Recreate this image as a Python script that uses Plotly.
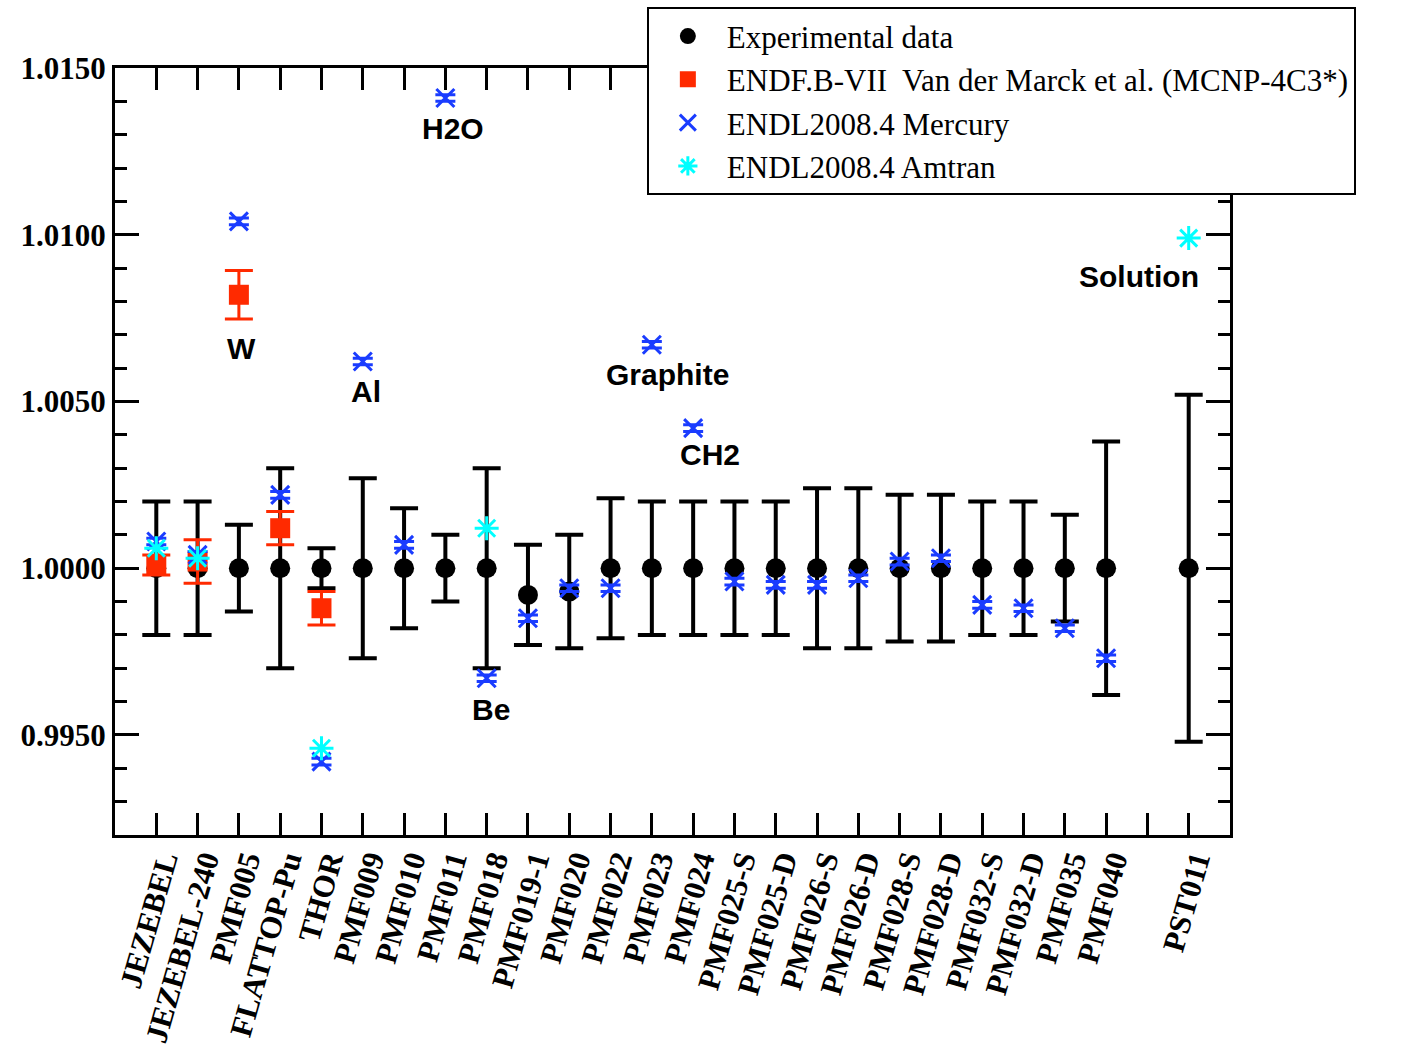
import plotly.graph_objects as go

# ---------------- data ----------------
labels = ["JEZEBEL", "JEZEBEL-240", "PMF005", "FLATTOP-Pu", "THOR", "PMF009", "PMF010",
          "PMF011", "PMF018", "PMF019-1", "PMF020", "PMF022", "PMF023", "PMF024",
          "PMF025-S", "PMF025-D", "PMF026-S", "PMF026-D", "PMF028-S", "PMF028-D",
          "PMF032-S", "PMF032-D", "PMF035", "PMF040", "", "PST011"]
label_pos = list(range(1, 27))

exp_x = [1, 2, 3, 4, 5, 6, 7, 8, 9, 10, 11, 12, 13, 14, 15, 16, 17, 18, 19, 20, 21, 22, 23, 24, 26]
exp_y = [1.0, 1.0, 1.0, 1.0, 1.0, 1.0, 1.0, 1.0, 1.0, 0.9992, 0.9993, 1.0, 1.0, 1.0,
         1.0, 1.0, 1.0, 1.0, 1.0, 1.0, 1.0, 1.0, 1.0, 1.0, 1.0]
exp_err = [0.0020, 0.0020, 0.0013, 0.0030, 0.0006, 0.0027, 0.0018, 0.0010, 0.0030, 0.0015,
           0.0017, 0.0021, 0.0020, 0.0020, 0.0020, 0.0020, 0.0024, 0.0024, 0.0022, 0.0022,
           0.0020, 0.0020, 0.0016, 0.0038, 0.0052]

endf_x = [1, 2, 3, 4, 5]
endf_y = [1.0001, 1.0002, 1.0082, 1.0012, 0.9988]
endf_err = [0.0003, 0.00065, 0.00073, 0.0005, 0.0005]

merc_x = list(range(1, 25))
merc_y = [1.0008, 1.0004, 1.0104, 1.0022, 0.9942, 1.0062, 1.0007, 1.0141, 0.9967, 0.9985,
          0.9994, 0.9994, 1.0067, 1.0042, 0.9996, 0.9995, 0.9995, 0.9997, 1.0002, 1.0003,
          0.9989, 0.9988, 0.9982, 0.9973]
merc_err = [0.0001] * len(merc_x)

amt_x = [1, 2, 5, 9, 26]
amt_y = [1.0006, 1.0003, 0.9946, 1.0012, 1.0099]

notes = ["H2O", "W", "Al", "Be", "Graphite", "CH2", "Solution"]
note_x = [8.18, 3.07, 6.08, 9.1, 13.37, 14.4, 24.8]
note_y = [1.0132, 1.0066, 1.0053, 0.99575, 1.0058, 1.0034, 1.00875]

BLUE = "#1a3cff"
RED = "#ff2a00"
CYAN = "#00ffff"

fig = go.Figure()
fig.add_trace(go.Scatter(
    x=exp_x, y=exp_y, mode="markers", name="Experimental data",
    marker=dict(symbol="circle", size=20, color="black"),
    error_y=dict(type="data", array=exp_err, color="black", thickness=4, width=14)))
fig.add_trace(go.Scatter(
    x=endf_x, y=endf_y, mode="markers",
    name="ENDF.B-VII  Van der Marck et al. (MCNP-4C3*)",
    marker=dict(symbol="square", size=20, color=RED),
    error_y=dict(type="data", array=endf_err, color=RED, thickness=3, width=14)))
fig.add_trace(go.Scatter(
    x=merc_x, y=merc_y, mode="markers", name="ENDL2008.4 Mercury",
    marker=dict(symbol="x-thin-open", size=18, color=BLUE, line=dict(color=BLUE, width=3)),
    error_y=dict(type="data", array=merc_err, color=BLUE, thickness=3, width=10)))
fig.add_trace(go.Scatter(
    x=amt_x, y=amt_y, mode="markers", name="ENDL2008.4 Amtran",
    marker=dict(symbol="asterisk-open", size=20, color=CYAN, line=dict(color=CYAN, width=3))))

for t, xx, yy in zip(notes, note_x, note_y):
    fig.add_annotation(x=xx, y=yy, text=t, showarrow=False, xref="x", yref="y",
                       font=dict(family="Liberation Sans", size=30, color="black", weight="bold"))

fig.update_layout(
    width=1404, height=1056,
    margin=dict(l=115, r=174, t=68, b=221, autoexpand=False),
    paper_bgcolor="white", plot_bgcolor="white",
    showlegend=True,
    legend=dict(x=0.477, y=1.079, xanchor="left", yanchor="top",
                bgcolor="white", bordercolor="black", borderwidth=2,
                font=dict(family="Liberation Serif", size=31, color="black"),
                itemwidth=68, tracegroupgap=0),
    xaxis=dict(range=[0, 27], tickmode="array", tickvals=label_pos, ticktext=labels,
               tickangle=-74, ticks="inside", ticklen=22, tickwidth=3, tickcolor="black",
               showline=True, linecolor="black", linewidth=3, mirror="ticks",
               showgrid=False, zeroline=False, automargin=False, ticklabelshift=7,
               ticklabelstandoff=-8,
               tickfont=dict(family="Liberation Serif", size=31, color="black", weight="bold")),
    yaxis=dict(range=[0.992, 1.015], tickmode="array",
               tickvals=[0.995, 1.0, 1.005, 1.010, 1.015],
               ticktext=["0.9950", "1.0000", "1.0050", "1.0100", "1.0150"],
               ticks="inside", ticklen=24, tickwidth=3, tickcolor="black",
               minor=dict(dtick=0.001, tick0=0.992, ticks="inside", ticklen=12,
                          tickwidth=3, tickcolor="black", showgrid=False),
               showline=True, linecolor="black", linewidth=3, mirror="ticks",
               showgrid=False, zeroline=False, automargin=False,
               tickfont=dict(family="Liberation Serif", size=31, color="black", weight="bold")),
)

fig.write_html("out.html")
